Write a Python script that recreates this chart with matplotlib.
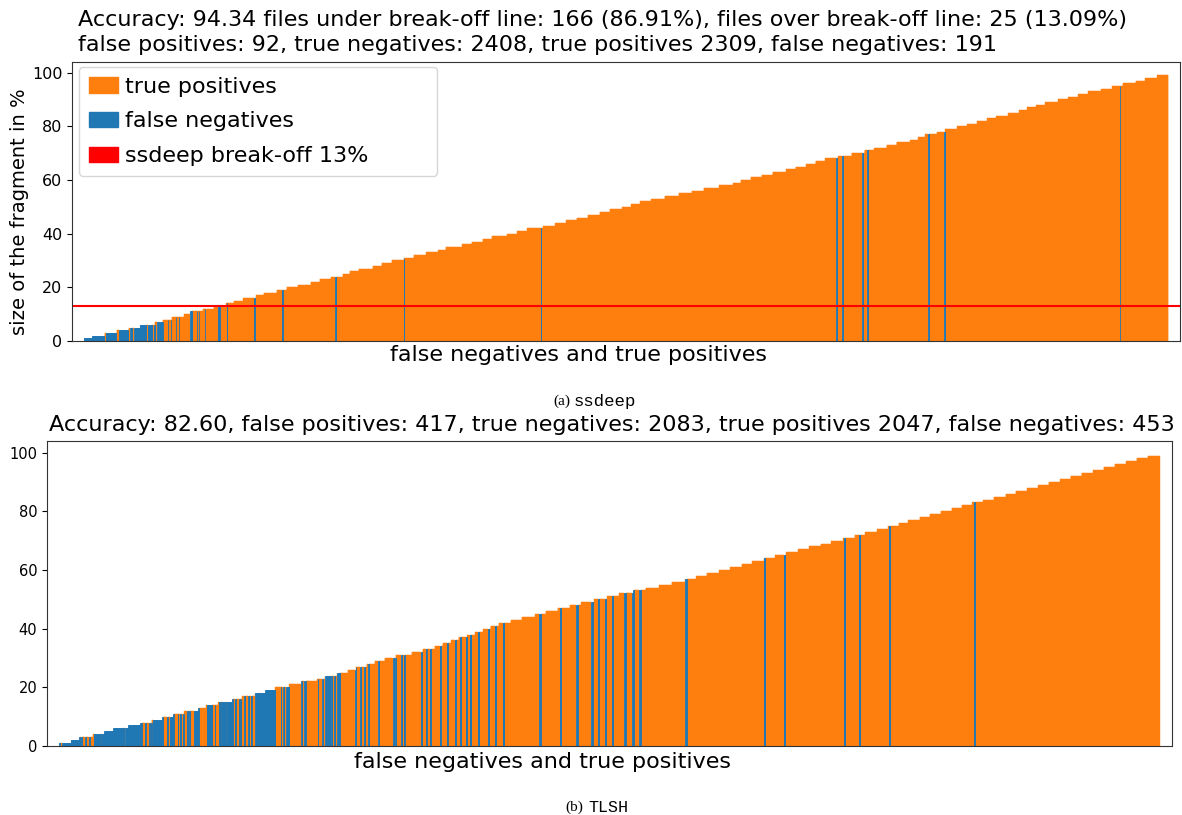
import numpy as np
import matplotlib.pyplot as plt
from matplotlib.patches import Patch

ORANGE = "#ff7f0e"
BLUE = "#1f77b4"

# fragment sizes in % (one step per size), sorted ascending
sizes = list(range(1, 100))

# ssdeep: number of files at each size
ssdeep_counts = [18, 30, 28, 28, 25, 35, 18, 21, 28, 14,
                 30, 25, 28, 18, 21, 30, 18, 30, 23, 25,
                 30, 21, 25, 28, 16, 21, 32, 21, 23, 28,
                 23, 28, 28, 18, 37, 23, 25, 21, 35, 23,
                 23, 37, 28, 25, 25, 25, 28, 23, 28, 21,
                 21, 25, 32, 32, 30, 28, 35, 32, 18, 23,
                 25, 25, 32, 21, 25, 21, 23, 30, 30, 30,
                 23, 28, 23, 32, 18, 16, 28, 18, 28, 23,
                 23, 23, 21, 28, 25, 18, 21, 21, 30, 23,
                 23, 23, 30, 25, 25, 30, 21, 28, 25]
# false negatives: (first file, number of files) in sorted order
ssdeep_fn = [(0, 47), (50, 25), (80, 22), (107, 5), (116, 27), (147, 11),
             (161, 3), (169, 3), (175, 7), (194, 1), (200, 1), (212, 1),
             (219, 1), (245, 5), (260, 1), (265, 1), (279, 1), (309, 4),
             (329, 2), (392, 2), (456, 2), (580, 2), (737, 2), (1053, 2),
             (1735, 2), (1749, 2), (1795, 2), (1806, 2), (1947, 2), (1984, 2),
             (2389, 1)]

# TLSH: number of files at each size
tlsh_counts = [26, 20, 32, 25, 20, 34, 27, 27, 23, 25,
               25, 32, 18, 27, 32, 23, 29, 23, 23, 32,
               27, 36, 18, 27, 25, 18, 25, 18, 23, 25,
               36, 25, 27, 18, 20, 17, 19, 18, 18, 17,
               19, 27, 25, 30, 24, 28, 27, 26, 29, 30,
               27, 32, 28, 31, 29, 29, 26, 24, 28, 25,
               27, 23, 26, 27, 24, 28, 25, 26, 24, 27,
               26, 24, 27, 25, 24, 22, 26, 23, 25, 24,
               23, 24, 25, 24, 27, 23, 26, 25, 24, 26,
               23, 25, 27, 24, 25, 26, 24, 25, 27]
tlsh_fn = [(0, 3), (7, 41), (50, 2), (59, 2), (68, 3), (79, 16), (97, 7),
           (104, 2), (107, 6), (114, 11), (125, 22), (150, 8), (158, 27),
           (186, 2), (195, 2), (204, 2), (208, 2), (213, 23), (245, 2),
           (251, 9), (269, 2), (274, 2), (281, 2), (290, 2), (296, 2),
           (306, 11), (335, 9), (346, 2), (353, 2), (362, 5), (369, 9),
           (381, 13), (399, 2), (408, 2), (412, 2), (421, 2), (430, 2),
           (435, 2), (446, 9), (456, 13), (469, 9), (479, 12), (503, 2),
           (509, 2), (516, 7), (550, 2), (557, 3), (587, 2), (598, 2),
           (605, 11), (618, 2), (625, 2), (632, 7), (673, 2), (684, 2),
           (693, 2), (702, 2), (725, 2), (759, 2), (763, 2), (777, 2),
           (783, 2), (822, 3), (833, 2), (842, 2),
           (865, 2), (881, 2), (899, 3), (910, 3), (924, 3), (933, 3),
           (951, 3), (974, 3), (990, 3), (1008, 3), (1091, 3), (1137, 3),
           (1175, 3), (1209, 3), (1223, 3), (1239, 3), (1255, 3), (1284, 3),
           (1302, 3), (1318, 3), (1422, 3), (1601, 3), (1646, 3), (1782, 3),
           (1816, 3), (1884, 3), (2077, 2)]


def draw(ax, counts, fn_runs, tick_size):
    values = np.repeat(sizes, counts)
    x = np.arange(len(values))
    fn = np.zeros(len(values), dtype=bool)
    for start, length in fn_runs:
        fn[start:start + length] = True
    ax.bar(x[~fn], values[~fn], width=1, color=ORANGE, edgecolor=ORANGE, linewidth=0.3)
    ax.bar(x[fn], values[fn], width=1, color=BLUE, edgecolor=BLUE, linewidth=0.6)
    pad = 0.011 * len(values)
    ax.set_xlim(-0.5 - pad, len(values) - 0.5 + pad)
    ax.set_xticks([])
    ax.set_yticks([0, 20, 40, 60, 80, 100])
    ax.tick_params(axis="y", labelsize=tick_size)
    for s in ax.spines.values():
        s.set_color("#333333")


fig = plt.figure(figsize=(11.82, 8.15), dpi=100)
W, H = 1182, 815

ax1 = fig.add_axes([72 / W, 1 - 341 / H, (1180 - 72) / W, (341 - 62) / H])
draw(ax1, ssdeep_counts, ssdeep_fn, 11.5)
ax1.axhline(13, color="red", linewidth=1.5)
handles = [Patch(color=ORANGE, label="true positives"),
           Patch(color=BLUE, label="false negatives"),
           Patch(color="red", label="ssdeep break-off 13%")]
ax1.legend(handles=handles, loc="upper left", mode="expand", fontsize=16,
           bbox_to_anchor=(7 / 1108, 0, 358 / 1108, 1 - 5 / 279), borderaxespad=0,
           handlelength=1.3, handletextpad=0.35, borderpad=0.44, labelspacing=0.66)

fig.text(78 / W, 1 - 20 / H,
         "Accuracy: 94.34 files under break-off line: 166 (86.91%), files over break-off line: 25 (13.09%)",
         fontsize=16, ha="left", va="center")
fig.text(78 / W, 1 - 45 / H,
         "false positives: 92, true negatives: 2408, true positives 2309, false negatives: 191",
         fontsize=16, ha="left", va="center")
fig.text(20 / W, 1 - 212 / H, "size of the fragment in %", fontsize=14,
         rotation=90, ha="center", va="center")
fig.text(579 / W, 1 - 355 / H, "false negatives and true positives", fontsize=16,
         ha="center", va="center")
fig.text(570 / W, 1 - 401 / H, "(a)", fontsize=11, family="Liberation Serif",
         ha="right", va="center")
fig.text(574 / W, 1 - 401 / H, "ssdeep", fontsize=12.5, family="Liberation Mono",
         ha="left", va="center")

ax2 = fig.add_axes([47 / W, 1 - 746 / H, (1172 - 47) / W, (746 - 441) / H])
draw(ax2, tlsh_counts, tlsh_fn, 10.5)
fig.text(612 / W, 1 - 425 / H,
         "Accuracy: 82.60, false positives: 417, true negatives: 2083, true positives 2047, false negatives: 453",
         fontsize=16, ha="center", va="center")
fig.text(542 / W, 1 - 762 / H, "false negatives and true positives", fontsize=16,
         ha="center", va="center")
fig.text(583 / W, 1 - 807 / H, "(b)", fontsize=11, family="Liberation Serif",
         ha="right", va="center")
fig.text(588 / W, 1 - 807 / H, "TLSH", fontsize=12, family="Liberation Mono",
         ha="left", va="center")

fig.savefig("out.png", dpi=100)
